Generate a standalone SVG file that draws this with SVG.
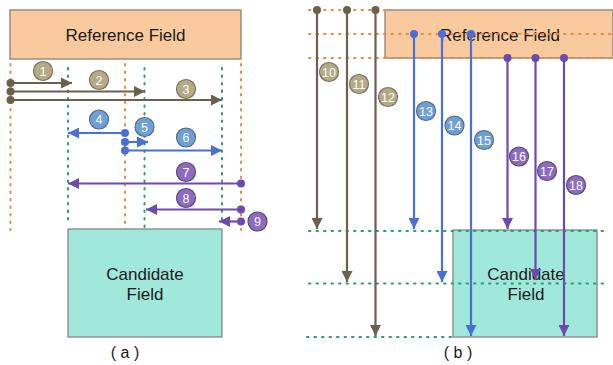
<svg xmlns="http://www.w3.org/2000/svg" width="613" height="365" viewBox="0 0 613 365">
<style>
text{font-family:"Liberation Sans",Arial,sans-serif;fill:#1a1a1a}
.ref{fill:#f8ca9e;stroke:#8c8070;stroke-width:1.3}
.cand{fill:#a0e8da;stroke:#808a80;stroke-width:1.3}
.big{font-size:17px;text-anchor:middle}
.cap{font-size:16px;text-anchor:middle}
.od{stroke:#f0883c;stroke-width:2;stroke-dasharray:1.5 6;fill:none;stroke-linecap:round}
.gd{stroke:#2a9d78;stroke-width:2;stroke-dasharray:1.5 6;fill:none;stroke-linecap:round}
.br{stroke:#6b604c;stroke-width:2.2;fill:none}
.bl{stroke:#4a70d8;stroke-width:2.2;fill:none}
.pu{stroke:#6c4bae;stroke-width:2.2;fill:none}
.dbr{fill:#6b604c}.dbl{fill:#4a70d8}.dpu{fill:#6c4bae}
.cbr{fill:#b4ab86;stroke:#7a7060;stroke-width:1.2}
.cbl{fill:#6ea0d8;stroke:#5a6a80;stroke-width:1.2}
.cpu{fill:#8c6bc0;stroke:#5a4a70;stroke-width:1.2}
.num{font-size:12.5px;fill:#ffffff;text-anchor:middle}
</style>
<defs>
<marker id="abr" viewBox="0 0 10 10" refX="10" refY="5" markerWidth="5.5" markerHeight="5" markerUnits="strokeWidth" orient="auto"><path d="M0,0L10,5L0,10z" fill="#6b604c"/></marker>
<marker id="abl" viewBox="0 0 10 10" refX="10" refY="5" markerWidth="5.5" markerHeight="5" markerUnits="strokeWidth" orient="auto"><path d="M0,0L10,5L0,10z" fill="#4a70d8"/></marker>
<marker id="apu" viewBox="0 0 10 10" refX="10" refY="5" markerWidth="5.5" markerHeight="5" markerUnits="strokeWidth" orient="auto"><path d="M0,0L10,5L0,10z" fill="#6c4bae"/></marker>
</defs>

<!-- Part (a) -->
<g id="a-reference">
<rect class="ref" x="10" y="10" width="231" height="49"/>
<text class="big" x="125.5" y="41">Reference Field</text>
</g>
<g id="a-guides">
<line class="od" x1="10.5" y1="64" x2="10.5" y2="230"/>
<line class="od" x1="125" y1="64" x2="125" y2="232"/>
<line class="od" x1="241" y1="64" x2="241" y2="230"/>
<line class="gd" x1="68" y1="68" x2="68" y2="225"/>
<line class="gd" x1="144.5" y1="68" x2="144.5" y2="232"/>
<line class="gd" x1="222" y1="68" x2="222" y2="225"/>
</g>
<g id="a-candidate">
<rect class="cand" x="68" y="229" width="154" height="108"/>
<text class="big" x="145" y="280">Candidate</text>
<text class="big" x="145" y="300">Field</text>
</g>
<text class="cap" x="125" y="358">( a )</text>

<g id="a-connectors">
<line class="br" x1="10.5" y1="83" x2="72" y2="83" marker-end="url(#abr)"/>
<line class="br" x1="10.5" y1="91.5" x2="145" y2="91.5" marker-end="url(#abr)"/>
<line class="br" x1="10.5" y1="100" x2="222" y2="100" marker-end="url(#abr)"/>
<circle class="dbr" cx="10.5" cy="83" r="4"/><circle class="dbr" cx="10.5" cy="91.5" r="4"/><circle class="dbr" cx="10.5" cy="100" r="4"/>
<line class="bl" x1="125" y1="133" x2="68" y2="133" marker-end="url(#abl)"/>
<line class="bl" x1="125" y1="142" x2="148" y2="142" marker-end="url(#abl)"/>
<line class="bl" x1="125" y1="150.5" x2="222" y2="150.5" marker-end="url(#abl)"/>
<circle class="dbl" cx="125" cy="133" r="4"/><circle class="dbl" cx="125" cy="142" r="4"/><circle class="dbl" cx="125" cy="150.5" r="4"/>
<line class="pu" x1="241" y1="183.5" x2="68" y2="183.5" marker-end="url(#apu)"/>
<line class="pu" x1="241" y1="209.5" x2="146" y2="209.5" marker-end="url(#apu)"/>
<line class="pu" x1="241" y1="221.5" x2="219" y2="221.5" marker-end="url(#apu)"/>
<circle class="dpu" cx="241" cy="183.5" r="4"/><circle class="dpu" cx="241" cy="209.5" r="4"/><circle class="dpu" cx="241" cy="221.5" r="4"/>
</g>
<g id="a-labels">
<g id="lbl1"><circle class="cbr" cx="43" cy="71" r="9.5"/><text class="num" x="43" y="75.5">1</text></g>
<g id="lbl2"><circle class="cbr" cx="99" cy="80" r="9.5"/><text class="num" x="99" y="84.5">2</text></g>
<g id="lbl3"><circle class="cbr" cx="186" cy="89" r="9.5"/><text class="num" x="186" y="93.5">3</text></g>
<g id="lbl4"><circle class="cbl" cx="99" cy="119.5" r="9.5"/><text class="num" x="99" y="124">4</text></g>
<g id="lbl5"><circle class="cbl" cx="144.5" cy="127" r="9.5"/><text class="num" x="144.5" y="131.5">5</text></g>
<g id="lbl6"><circle class="cbl" cx="186" cy="137.5" r="9.5"/><text class="num" x="186" y="142">6</text></g>
<g id="lbl7"><circle class="cpu" cx="186" cy="172" r="9.5"/><text class="num" x="186" y="176.5">7</text></g>
<g id="lbl8"><circle class="cpu" cx="186" cy="198" r="9.5"/><text class="num" x="186" y="202.5">8</text></g>
<g id="lbl9"><circle class="cpu" cx="257.5" cy="221.5" r="9.5"/><text class="num" x="257.5" y="226">9</text></g>
</g>

<!-- Part (b) -->
<g id="b-reference">
<rect class="ref" x="385" y="10" width="228" height="48"/>
<text class="big" x="500" y="41">Reference Field</text>
</g>
<g id="b-candidate">
<rect class="cand" x="453" y="230" width="144" height="107"/>
<text class="big" x="526" y="280">Candidate</text>
<text class="big" x="526" y="300">Field</text>
</g>
<g id="b-guides">
<line class="od" x1="309" y1="10" x2="385" y2="10"/>
<line class="od" x1="309" y1="34" x2="612" y2="34"/>
<line class="od" x1="309" y1="58" x2="612" y2="58"/>
<line class="gd" x1="309" y1="231" x2="608" y2="231"/>
<line class="gd" x1="309" y1="283.5" x2="604" y2="283.5"/>
<line class="gd" x1="307" y1="337" x2="453" y2="337"/>
</g>
<text class="cap" x="458" y="358">( b )</text>

<g id="b-connectors">
<line class="br" x1="317" y1="10" x2="317" y2="229" marker-end="url(#abr)"/>
<line class="br" x1="347" y1="10" x2="347" y2="282" marker-end="url(#abr)"/>
<line class="br" x1="375.5" y1="10" x2="375.5" y2="336" marker-end="url(#abr)"/>
<circle class="dbr" cx="317" cy="10" r="4"/><circle class="dbr" cx="347" cy="10" r="4"/><circle class="dbr" cx="375.5" cy="10" r="4"/>
<line class="bl" x1="414" y1="34" x2="414" y2="229" marker-end="url(#abl)"/>
<line class="bl" x1="442" y1="34" x2="442" y2="282" marker-end="url(#abl)"/>
<line class="bl" x1="471" y1="34" x2="471" y2="336" marker-end="url(#abl)"/>
<circle class="dbl" cx="414" cy="34" r="4"/><circle class="dbl" cx="442" cy="34" r="4"/><circle class="dbl" cx="471" cy="34" r="4"/>
<line class="pu" x1="507.5" y1="58" x2="507.5" y2="229" marker-end="url(#apu)"/>
<line class="pu" x1="535.5" y1="58" x2="535.5" y2="280" marker-end="url(#apu)"/>
<line class="pu" x1="564" y1="58" x2="564" y2="336" marker-end="url(#apu)"/>
<circle class="dpu" cx="507.5" cy="58" r="4"/><circle class="dpu" cx="535.5" cy="58" r="4"/><circle class="dpu" cx="564" cy="58" r="4"/>
</g>
<g id="b-labels">
<g id="lbl10"><circle class="cbr" cx="329" cy="72" r="9.5"/><text class="num" x="329" y="76.5">10</text></g>
<g id="lbl11"><circle class="cbr" cx="359" cy="84" r="9.5"/><text class="num" x="359" y="88.5">11</text></g>
<g id="lbl12"><circle class="cbr" cx="388" cy="97" r="9.5"/><text class="num" x="388" y="101.5">12</text></g>
<g id="lbl13"><circle class="cbl" cx="426" cy="111" r="9.5"/><text class="num" x="426" y="115.5">13</text></g>
<g id="lbl14"><circle class="cbl" cx="454.5" cy="125.5" r="9.5"/><text class="num" x="454.5" y="130">14</text></g>
<g id="lbl15"><circle class="cbl" cx="484" cy="140" r="9.5"/><text class="num" x="484" y="144.5">15</text></g>
<g id="lbl16"><circle class="cpu" cx="519" cy="156.5" r="9.5"/><text class="num" x="519" y="161">16</text></g>
<g id="lbl17"><circle class="cpu" cx="547" cy="171" r="9.5"/><text class="num" x="547" y="175.5">17</text></g>
<g id="lbl18"><circle class="cpu" cx="576" cy="185" r="9.5"/><text class="num" x="576" y="189.5">18</text></g>
</g>
</svg>
